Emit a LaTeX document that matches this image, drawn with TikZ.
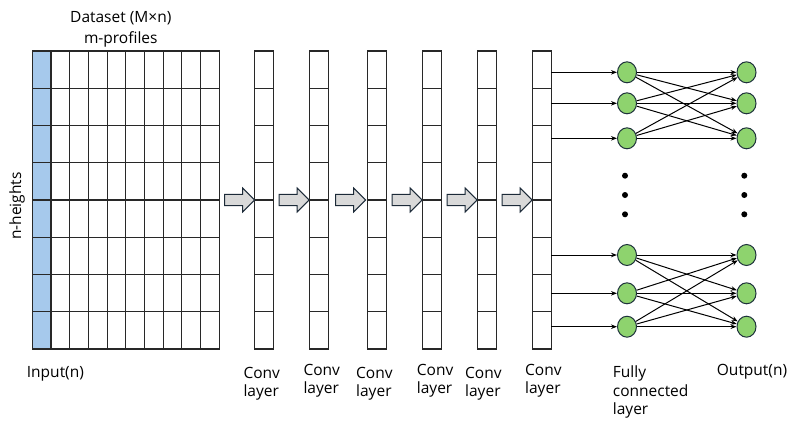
\documentclass[tikz,border=0pt]{standalone}
\usepackage{fontspec}
\setmainfont{Open Sans}
\definecolor{InBlue}{RGB}{166,201,236}
\definecolor{GridLine}{RGB}{40,40,40}
\definecolor{ArrowFill}{RGB}{217,217,217}
\definecolor{ArrowEdge}{RGB}{28,42,56}
\definecolor{NodeGreen}{RGB}{142,211,110}
\definecolor{NodeEdge}{RGB}{30,50,60}
\usepackage{tikz}
\usetikzlibrary{arrows.meta,positioning,shapes.geometric,shapes.arrows,calc}

\begin{document}
\begin{tikzpicture}[x=1pt,y=-1pt,node distance=36pt,font=\fontsize{15.5}{18.3}\selectfont,
  gridbox/.style={draw=GridLine,line width=1.1pt,inner sep=0pt,outer sep=0pt,minimum width=187pt,minimum height=298pt,
    path picture={
      \fill[InBlue] (path picture bounding box.north west) rectangle ([xshift=18.7pt]path picture bounding box.south west);
      \foreach \k in {1,...,9}
        \draw[GridLine,line width=1.1pt] ([xshift=\k*18.7pt]path picture bounding box.north west) -- ([xshift=\k*18.7pt]path picture bounding box.south west);
      \foreach \k in {1,...,7}
        \draw[GridLine,line width=1.1pt] ([yshift=-\k*37.25pt]path picture bounding box.north west) -- ([yshift=-\k*37.25pt]path picture bounding box.north east);
    }},
  convcol/.style={draw=GridLine,line width=1.1pt,inner sep=0pt,outer sep=0pt,minimum width=19pt,minimum height=298pt,
    path picture={
      \foreach \k in {1,...,7}
        \draw[GridLine,line width=1.1pt] ([yshift=-\k*37.25pt]path picture bounding box.north west) -- ([yshift=-\k*37.25pt]path picture bounding box.north east);
    }},
  blockarrow/.style={single arrow,draw=ArrowEdge,fill=ArrowFill,line width=1pt,inner xsep=0pt,inner ysep=5.1pt,minimum width=23pt,minimum height=30pt,single arrow head extend=6.4pt},
  neuron/.style={ellipse,draw=NodeEdge,fill=NodeGreen,line width=1pt,inner sep=0pt,minimum width=19pt,minimum height=21pt},
  conn/.style={line width=1pt,-{Stealth[length=6pt,width=4.5pt]}},
  lbl/.style={anchor=base west,align=left,inner sep=0pt}]
  \useasboundingbox (0,0) rectangle (800,432);

  \node[gridbox] (in) at (125.8,200) {};
  \node[convcol,right=35pt of in] (c1) {};
  \node[convcol,right=of c1] (c2) {};
  \node[convcol,right=39pt of c2] (c3) {};
  \node[convcol,right=of c3] (c4) {};
  \node[convcol,right=of c4] (c5) {};
  \node[convcol,right=of c5] (c6) {};

  \node[blockarrow] (a1) at ($(in.east)!0.5!(c1.west)$) {};
  \node[blockarrow] (a2) at ($(c1.east)!0.5!(c2.west)$) {};
  \node[blockarrow] (a3) at ($(c2.east)!0.5!(c3.west)$) {};
  \node[blockarrow] (a4) at ($(c3.east)!0.5!(c4.west)$) {};
  \node[blockarrow] (a5) at ($(c4.east)!0.5!(c5.west)$) {};
  \node[blockarrow] (a6) at ($(c5.east)!0.5!(c6.west)$) {};

  \foreach \n/\y in {1/72.3,2/103.3,3/138.3,4/255,5/293.3,6/326.7} {
    \node[neuron] (f\n) at (627,\y) {};
    \node[neuron] (o\n) at (746.5,\y) {};
    \draw[conn] (c6.east |- f\n) -- (f\n);
  }
  \foreach \i in {1,2,3}
    \foreach \j in {1,2,3}
      \draw[conn] (f\i) -- (o\j);
  \foreach \i in {4,5,6}
    \foreach \j in {4,5,6}
      \draw[conn] (f\i) -- (o\j);

  \foreach \y in {175.7,195,214.3} {
    \fill (625,\y) circle (3pt);
    \fill (744.3,\y) circle (3pt);
  }

  \node[anchor=base,align=center,inner sep=0pt,font=\fontsize{15.5}{20.6}\selectfont] (title) at (120.8,43.3) {Dataset (M×n)\\m-profiles};
  \node[rotate=90,inner sep=0pt] (nh) at (17,206) {n-heights};
  \node[lbl] (inlbl) at (26.7,377) {Input(n)};
  \foreach \n/\x/\y in {1/243.3/396.3,2/303.3/393.3,3/356/396.3,4/416.7/393.3,5/465/396.3,6/525/393.3}
    \node[lbl] (l\n) at (\x,\y) {Conv\\layer};
  \node[lbl] (fclbl) at (612.7,414.3) {Fully\\connected\\layer};
  \node[lbl] (outlbl) at (716.7,375) {Output(n)};
\end{tikzpicture}
\end{document}
